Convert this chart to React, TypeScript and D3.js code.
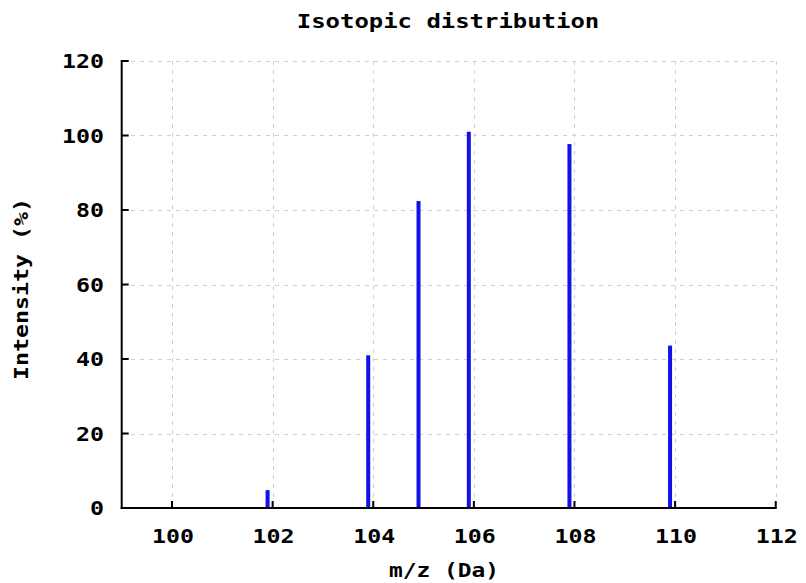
import React, { useEffect, useRef } from "react";
import * as d3 from "d3";

// Isotope peaks: m/z (Da) and relative intensity (%)
const masses = [101.9, 103.9, 104.9, 105.9, 107.9, 109.9];
const intensities = [4.8, 41.0, 82.4, 101.0, 97.7, 43.6];

const xTicks = [100, 102, 104, 106, 108, 110, 112];
const yTicks = [0, 20, 40, 60, 80, 100, 120];

const titleText = "Isotopic distribution";
const xLabel = "m/z (Da)";
const yLabel = "Intensity (%)";

const W = 806;
const H = 583;
const FONT = "'DejaVu Sans Mono', 'Liberation Mono', monospace";
const PITCH = 14;

export default function App() {
  const ref = useRef<SVGSVGElement | null>(null);

  useEffect(() => {
    const svg = d3.select(ref.current);
    svg.selectAll("*").remove();

    const x = d3.scaleLinear().domain([99, 112]).range([121.7, 775.7]);
    const y = d3.scaleLinear().domain([0, 120]).range([508, 61]);

    svg.append("rect").attr("width", W).attr("height", H).attr("fill", "#ffffff");

    // Dashed grid
    const grid = svg.append("g").attr("stroke", "#cfcfcf").attr("stroke-width", 1)
      .attr("stroke-dasharray", "4,5").attr("shape-rendering", "crispEdges");
    grid.selectAll("line.v").data(xTicks).enter().append("line")
      .attr("x1", (d) => Math.round(x(d)) + 0.5).attr("x2", (d) => Math.round(x(d)) + 0.5)
      .attr("y1", y(120)).attr("y2", y(0));
    grid.selectAll("line.h").data(yTicks.filter((d) => d > 0)).enter().append("line")
      .attr("x1", x(99)).attr("x2", x(112))
      .attr("y1", (d) => Math.round(y(d)) + 0.5).attr("y2", (d) => Math.round(y(d)) + 0.5);

    // Peaks
    svg.append("g").selectAll("rect").data(masses).enter().append("rect")
      .attr("x", (d) => x(d) - 2)
      .attr("width", 4)
      .attr("y", (_d, i) => y(intensities[i]))
      .attr("height", (_d, i) => y(0) - y(intensities[i]))
      .attr("fill", "#1212e6");

    // Axes
    const axes = svg.append("g").attr("stroke", "#000").attr("stroke-width", 2).attr("fill", "none");
    axes.append("line").attr("x1", x(99)).attr("x2", x(99)).attr("y1", y(120) - 1).attr("y2", y(0) + 1);
    axes.append("line").attr("x1", x(99) - 1).attr("x2", x(112) + 1).attr("y1", y(0)).attr("y2", y(0));
    axes.selectAll("line.xt").data(xTicks).enter().append("line")
      .attr("x1", (d) => x(d)).attr("x2", (d) => x(d))
      .attr("y1", y(0)).attr("y2", y(0) - 7);
    axes.selectAll("line.yt").data(yTicks).enter().append("line")
      .attr("x1", x(99)).attr("x2", x(99) + 7)
      .attr("y1", (d) => y(d)).attr("y2", (d) => y(d));

    const txt = (g: any, s: string, pitch = PITCH) =>
      g.text(s)
        .attr("font-family", FONT)
        .attr("font-weight", "bold")
        .attr("font-size", 20)
        .attr("fill", "#000")
        .attr("textLength", s.length * pitch)
        .attr("lengthAdjust", "spacingAndGlyphs");

    // Tick labels
    xTicks.forEach((d) => {
      txt(svg.append("text").attr("x", x(d) + 1).attr("y", 543).attr("text-anchor", "middle"), String(d));
    });
    yTicks.forEach((d) => {
      txt(svg.append("text").attr("x", 104).attr("y", y(d) + 7).attr("text-anchor", "end"), String(d));
    });

    // Titles
    txt(svg.append("text").attr("x", 448).attr("y", 28).attr("text-anchor", "middle"), titleText, 14.4);
    txt(svg.append("text").attr("x", 444).attr("y", 577).attr("text-anchor", "middle"), xLabel, 13.75);
    txt(
      svg.append("text").attr("text-anchor", "middle")
        .attr("transform", "translate(28,289) rotate(-90)"),
      yLabel
    );
  }, []);

  return (
    <svg
      ref={ref}
      width={W}
      height={H}
      style={{ position: "absolute", left: 0, top: 0, display: "block" }}
    />
  );
}
